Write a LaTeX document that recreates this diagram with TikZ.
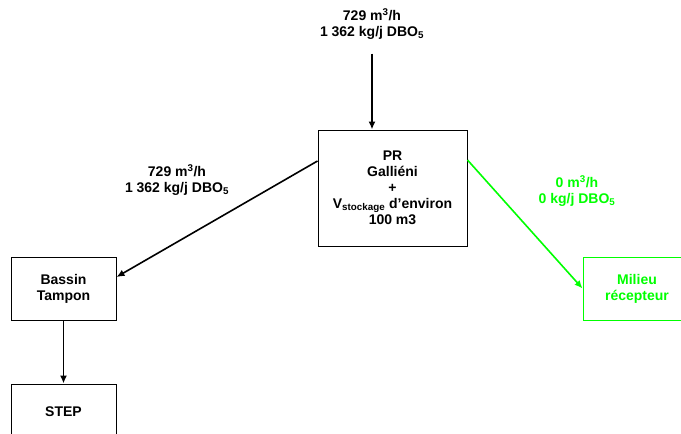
\documentclass[tikz,border=0pt]{standalone}
\usepackage{fontspec}
\setmainfont{Liberation Sans}
\usepackage{tikz}
\usetikzlibrary{arrows}
\usetikzlibrary{arrows.meta}
\usepackage{xcolor}
\definecolor{vertvif}{RGB}{0,255,0}
\newcommand{\debit}[2]{#1~m\textsuperscript{3}/h\\#2~kg/j DBO\textsubscript{5}}

\begin{document}
\begin{tikzpicture}[x=1pt,y=-1pt]
\tikzstyle{every node}=[font=\fontsize{14}{16}\selectfont\bfseries,align=center,inner sep=0pt]
\tikzstyle{boite}=[draw,line width=1pt,minimum width=105pt,minimum height=63pt]
\tikzstyle{fleche}=[line width=1.6pt,-{Latex[length=8pt,width=7pt]}]
\clip (0,0) rectangle (681,434);
\node (entree) at (372,24) {\debit{729}{1 362}};
\node[boite,minimum width=149pt,minimum height=116pt] (pr) at (392.5,188)
  {PR\\Galliéni\\+\\V\textsubscript{stockage} d'environ\\100 m3};
\node[boite] (bassin) at (63.5,288.5) {Bassin\\Tampon};
\node[boite,minimum height=56pt] (step) at (63.5,412) {STEP};
\node[boite,draw=vertvif,text=vertvif,minimum width=108pt] (milieu) at (637,288.5) {Milieu\\récepteur};
\node (versbassin) at (177,180) {\debit{729}{1 362}};
\node[text=vertvif] (versmilieu) at (577,191) {\debit{0}{0}};
\draw[fleche] ([yshift=-14pt]entree.south) -- (entree.south |- pr.north);
\draw[fleche] ([yshift=27pt]pr.west) -- ([yshift=11.5pt]bassin.east);
\draw[fleche,vertvif] ([yshift=28pt]pr.east) -- (milieu.west);
\draw[fleche] (bassin.south) -- (step.north);
\end{tikzpicture}
\end{document}
